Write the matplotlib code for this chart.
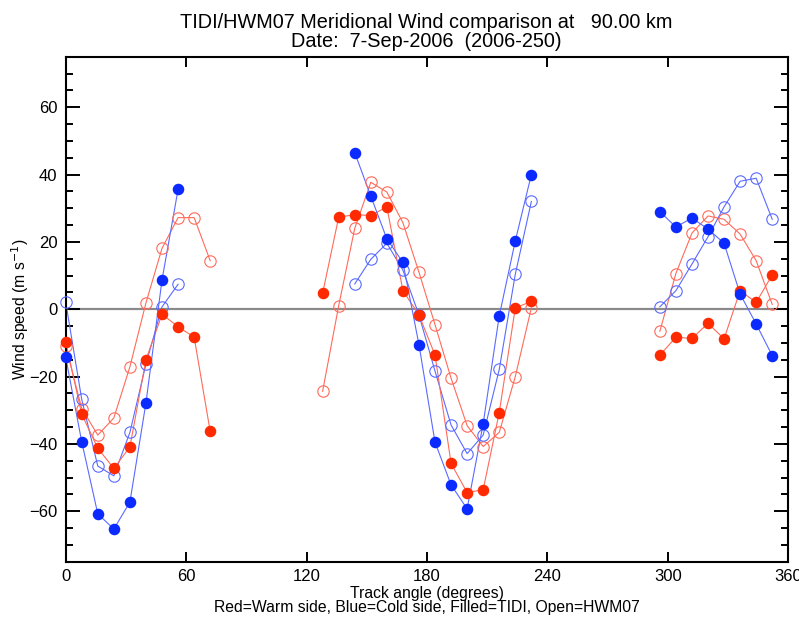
import numpy as np
import matplotlib
matplotlib.use('Agg')
import matplotlib.pyplot as plt
from matplotlib.ticker import MultipleLocator

plt.rcParams['font.family'] = ['Liberation Sans', 'DejaVu Sans']

# track angles (degrees), 8 deg steps, split in three passes
ang_a = [0, 8, 16, 24, 32, 40, 48, 56, 64, 72]
ang_b = [128, 136, 144, 152, 160, 168, 176, 184, 192, 200, 208, 216, 224, 232]
ang_c = [296, 304, 312, 320, 328, 336, 344, 352]

# warm side (red)
tidi_warm_a = [-9.7, -31.2, -41.3, -47.3, -40.9, -15.0, -1.5, -5.2, -8.3, -36.3]
hwm_warm_a = [-11.0, -29.5, -37.4, -32.3, -17.1, 1.9, 18.1, 27.2, 27.2, 14.4]
tidi_warm_b = [4.7, 27.3, 28.1, 27.8, 30.4, 5.5, -1.7, -13.6, -45.8, -54.5, -53.6, -30.7, 0.4, 2.3]
hwm_warm_b = [-24.4, 1.0, 24.0, 37.7, 34.8, 25.7, 11.0, -4.6, -20.5, -34.6, -40.8, -36.6, -20.0, 0.4]
tidi_warm_c = [-13.7, -8.3, -8.7, -4.2, -8.8, 5.5, 2.0, 10.2]
hwm_warm_c = [-6.6, 10.6, 22.6, 27.7, 26.7, 22.3, 14.4, 1.4]

# cold side (blue)
ang_a_cold = [0, 8, 16, 24, 32, 40, 48, 56]
ang_b_cold = [144, 152, 160, 168, 176, 184, 192, 200, 208, 216, 224, 232]
tidi_cold_a = [-14.2, -39.4, -60.8, -65.3, -57.3, -27.8, 8.7, 35.6]
hwm_cold_a = [2.2, -26.8, -46.6, -49.5, -36.6, -16.3, 0.7, 7.4]
tidi_cold_b = [46.5, 33.6, 20.9, 13.9, -10.5, -39.5, -52.2, -59.3, -34.0, -2.0, 20.3, 40.0]
hwm_cold_b = [7.5, 14.8, 19.6, 11.6, -1.7, -18.4, -34.4, -42.9, -37.4, -17.9, 10.4, 32.0]
tidi_cold_c = [29.0, 24.4, 27.1, 23.8, 19.6, 4.5, -4.4, -13.8]
hwm_cold_c = [0.7, 5.5, 13.4, 21.5, 30.4, 38.0, 38.9, 26.7]

red = '#ff2a00'
blue = '#0a2aff'
red_l = '#ff6a5a'
blue_l = '#5a6aff'

fig = plt.figure(figsize=(7.99, 6.19), dpi=100)
ax = fig.add_axes([0.0822, 0.0926, 0.9044, 0.8158])

ax.axhline(0, color='#8a8a8a', lw=1.6, zorder=1)

def filled(x, y, c, cl):
    ax.plot(x, y, '-', color=cl, lw=0.8, zorder=2)
    ax.plot(x, y, 'o', color=c, ms=7.3, mec=c, zorder=4, clip_on=False)

def opened(x, y, cl):
    ax.plot(x, y, '-', color=cl, lw=0.8, zorder=2)
    ax.plot(x, y, 'o', mfc='none', mec=cl, ms=8.2, mew=0.8, zorder=3, clip_on=False)

for x, y in [(ang_a, hwm_warm_a), (ang_b, hwm_warm_b), (ang_c, hwm_warm_c)]:
    opened(x, y, red_l)
for x, y in [(ang_a_cold, hwm_cold_a), (ang_b_cold, hwm_cold_b), (ang_c, hwm_cold_c)]:
    opened(x, y, blue_l)
for x, y in [(ang_a, tidi_warm_a), (ang_b, tidi_warm_b), (ang_c, tidi_warm_c)]:
    filled(x, y, red, red_l)
for x, y in [(ang_a_cold, tidi_cold_a), (ang_b_cold, tidi_cold_b), (ang_c, tidi_cold_c)]:
    filled(x, y, blue, blue_l)

ax.set_xlim(0, 360)
ax.set_ylim(-75, 75)
ax.xaxis.set_major_locator(MultipleLocator(60))
ax.yaxis.set_major_locator(MultipleLocator(20))
ax.yaxis.set_minor_locator(MultipleLocator(5))
ax.tick_params(axis='both', which='both', direction='in', top=True, right=True,
               labelsize=12, width=1.4)
ax.tick_params(axis='x', which='major', length=7.5, pad=5)
ax.tick_params(axis='y', which='major', length=10, pad=6)
ax.tick_params(axis='y', which='minor', length=5)
for s in ax.spines.values():
    s.set_linewidth(1.5)

fig.text(0.0250, 0.5, 'Wind speed (m s$^{-1}$)', rotation=90, ha='center', va='center',
         fontsize=11.3)
fig.text(0.534, 0.042, 'Track angle (degrees)', ha='center', va='center', fontsize=11.3)
fig.text(0.534, 0.0178, 'Red=Warm side, Blue=Cold side, Filled=TIDI, Open=HWM07',
         ha='center', va='center', fontsize=11.3)
fig.text(0.534, 0.955, 'TIDI/HWM07 Meridional Wind comparison at   90.00 km',
         ha='center', fontsize=14.3)
fig.text(0.534, 0.924, 'Date:  7-Sep-2006  (2006-250)', ha='center', fontsize=14.3)

fig.savefig('out.png', dpi=100)
